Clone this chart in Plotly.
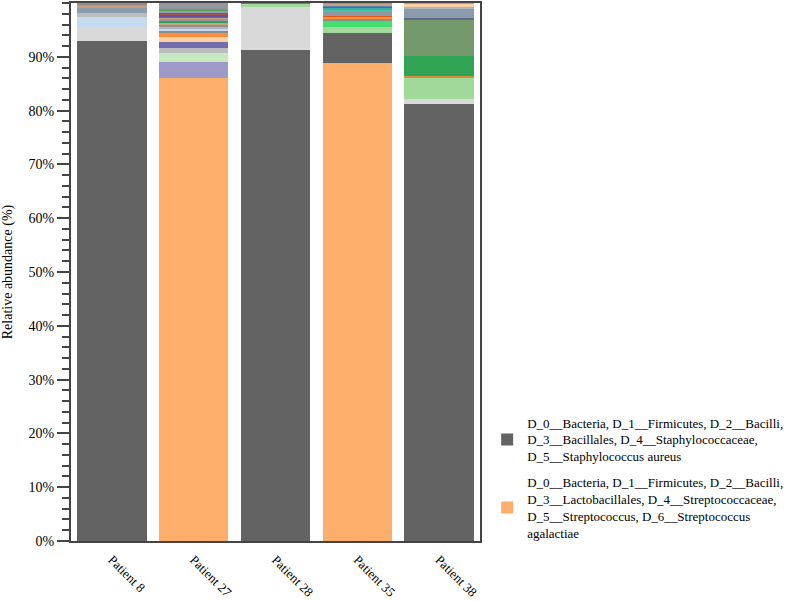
import plotly.graph_objects as go

# ---------------- data ----------------
patients = ["Patient 8", "Patient 27", "Patient 28", "Patient 35", "Patient 38"]

SA = "D_0__Bacteria, D_1__Firmicutes, D_2__Bacilli,<br>D_3__Bacillales, D_4__Staphylococcaceae,<br>D_5__Staphylococcus aureus"
SAG = "D_0__Bacteria, D_1__Firmicutes, D_2__Bacilli,<br>D_3__Lactobacillales, D_4__Streptococcaceae,<br>D_5__Streptococcus, D_6__Streptococcus<br>agalactiae"

legend_taxa = [SA, SAG]

y_tick_values = [0, 10, 20, 30, 40, 50, 60, 70, 80, 90]
y_tick_labels = ["0%", "10%", "20%", "30%", "40%", "50%", "60%", "70%", "80%", "90%"]

# segments per patient, bottom -> top (taxon key, relative abundance %)
p8_taxa = [SA, "t_lgray", "t_lblue", "t_gray", "t_slate", "t_slate2", "t_tan", "t_orangebrown", "t_browngray"]
p8_values = [92.9, 2.6, 1.85, 0.8, 1.0, 0.15, 0.15, 0.25, 0.3]

p27_taxa = [SAG, "t_lav", "t_lgreen", "t_gray", "t_purple", "t_peach", "t_orange", "t_mgray",
            "t_lblue", "t_lslate", "t_browngray", "t_tan", "t_green", "t_mgray2", "t_tan",
            "t_redbrown", "t_purple2", "t_redbrown", "t_slate", "t_green3", "t_mgray2", "t_slate", "t_mgray2"]
p27_values = [86.06, 2.97, 1.73, 0.87, 1.12, 0.87, 0.74, 0.61,
              0.37, 0.37, 0.37, 0.25, 0.37, 0.37, 0.25,
              0.25, 0.37, 0.25, 0.5, 0.25, 0.25, 0.48, 0.32]

p28_taxa = [SA, "t_lgray", "t_green2", "t_steel"]
p28_values = [91.26, 7.94, 0.67, 0.13]

p35_taxa = [SAG, SA, "t_green2", "t_bgreen", "t_mgray", "t_orange", "t_dorange", "t_slate",
            "t_mgray2", "t_turq", "t_teal", "t_redbrown", "t_steel", "t_tan", "t_mgray2"]
p35_values = [88.79, 5.69, 1.0, 1.12, 0.48, 0.37, 0.26, 0.37,
              0.25, 0.37, 0.37, 0.25, 0.26, 0.24, 0.19]

p38_taxa = [SA, "t_lgray", "t_green2", "t_orangebrown", "t_green", "t_graygreen",
            "t_darkslate", "t_slate", "t_lslate", "t_peach", "t_orange"]
p38_values = [81.23, 0.87, 4.02, 0.26, 3.77, 6.82, 0.3, 1.62, 0.32, 0.61, 0.19]

segments = {
    "Patient 8": (p8_taxa, p8_values),
    "Patient 27": (p27_taxa, p27_values),
    "Patient 28": (p28_taxa, p28_values),
    "Patient 35": (p35_taxa, p35_values),
    "Patient 38": (p38_taxa, p38_values),
}

# ---------------- styles ----------------
colors = {
    SA: "#636363",
    SAG: "#fdae6b",
    "t_lgray": "#d9d9d9",
    "t_lblue": "#c6dbef",
    "t_gray": "#bdbdbd",
    "t_slate": "#8c9bab",
    "t_slate2": "#9aa6b4",
    "t_tan": "#c4a484",
    "t_orangebrown": "#d0903c",
    "t_browngray": "#9a8c84",
    "t_lav": "#9e9ac8",
    "t_lgreen": "#c7e9c0",
    "t_purple": "#756bb1",
    "t_peach": "#fdd0a2",
    "t_orange": "#fd8d3c",
    "t_mgray": "#8c8c8c",
    "t_mgray2": "#969696",
    "t_lslate": "#aab6c4",
    "t_green": "#31a354",
    "t_green2": "#a1d99b",
    "t_green3": "#5fa55f",
    "t_redbrown": "#a05050",
    "t_purple2": "#6a51a3",
    "t_steel": "#5b7fb0",
    "t_bgreen": "#41e06e",
    "t_dorange": "#e6550d",
    "t_turq": "#4ac0b0",
    "t_teal": "#3cb0a0",
    "t_graygreen": "#74996b",
    "t_darkslate": "#5f6888",
}

FONT = "Times New Roman, Liberation Serif, serif"
FS = 14

fig = go.Figure()
shown = set()
for p in patients:
    taxa, vals = segments[p]
    for t, v in zip(taxa, vals):
        show = t in legend_taxa and t not in shown
        if show:
            shown.add(t)
        fig.add_trace(go.Bar(
            x=[p], y=[v], name=t,
            marker=dict(color=colors[t], line=dict(width=0)),
            width=0.85, showlegend=show, legendgroup=t,
            legendrank=legend_taxa.index(t) + 1 if t in legend_taxa else 1000,
        ))

fig.update_layout(
    barmode="stack",
    width=790, height=601,
    margin=dict(l=71, r=309, t=3, b=60),
    plot_bgcolor="white", paper_bgcolor="white",
    font=dict(family=FONT, size=FS, color="black"),
    legend=dict(x=1.015, y=0.117, xanchor="left", yanchor="middle",
                font=dict(family=FONT, size=13, color="black"), tracegroupgap=6,
                bgcolor="rgba(0,0,0,0)"),
)
fig.update_xaxes(
    categoryorder="array", categoryarray=patients,
    showline=True, linecolor="#444", linewidth=2, mirror=True,
    tickangle=45, ticks="outside", ticklen=4, tickcolor="rgba(0,0,0,0)", showgrid=False,
    tickfont=dict(family=FONT, size=13, color="black"), automargin=False,
)
fig.update_yaxes(
    range=[0, 100], tickmode="array", tickvals=y_tick_values, ticktext=y_tick_labels,
    ticks="outside", ticklen=12, tickwidth=1.5, tickcolor="#444",
    minor=dict(tickmode="linear", tick0=0, dtick=2, ticks="outside", ticklen=7,
               tickwidth=1.5, tickcolor="#444", showgrid=False),
    showline=True, linecolor="#444", linewidth=2, mirror=True,
    showgrid=False, zeroline=False, automargin=False,
    title=dict(text="Relative abundance (%)", font=dict(family=FONT, size=FS, color="black"), standoff=13),
    tickfont=dict(family=FONT, size=FS, color="black"),
)

fig.write_html("out.html", config={"displayModeBar": False},
               post_script="document.body.style.margin='0';")
